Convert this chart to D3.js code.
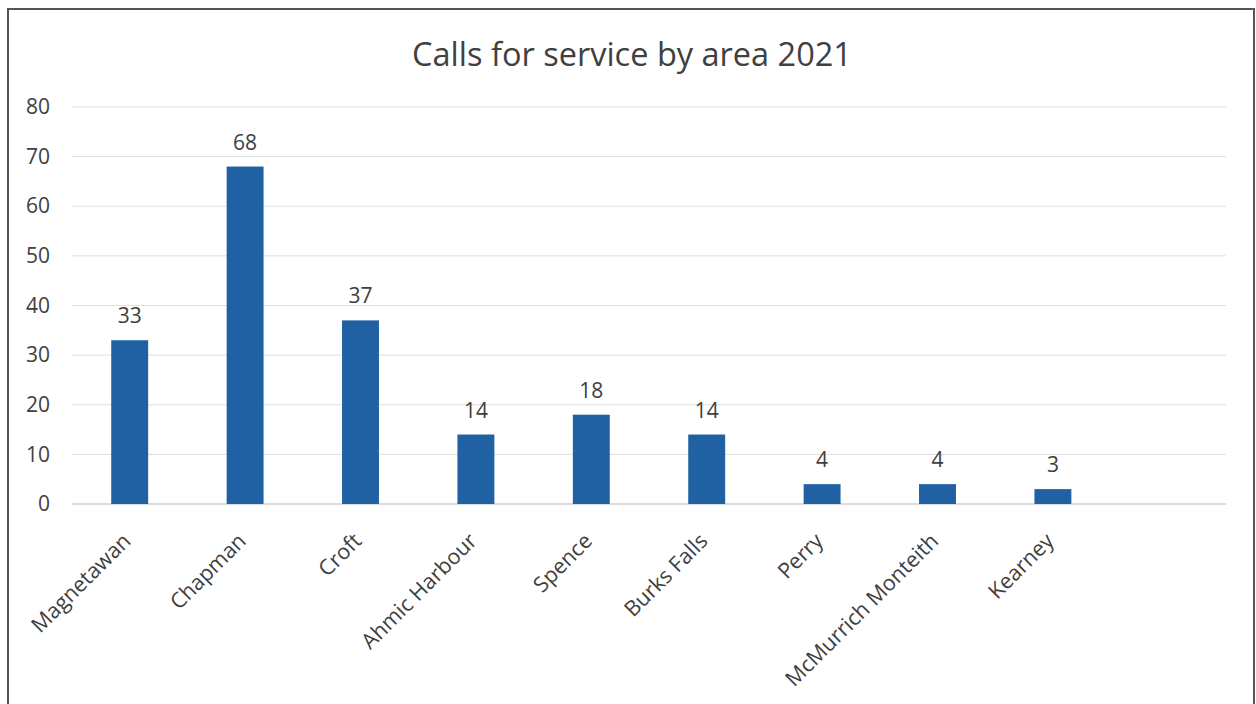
<!DOCTYPE html>
<html>
<head>
<meta charset="utf-8">
<script src="https://cdn.jsdelivr.net/npm/d3@7"></script>
<style>
  html, body { margin: 0; padding: 0; background: #fff; }
  svg { display: block; }
  text { font-family: "Open Sans", "Noto Sans", sans-serif; fill: #404040; }
</style>
</head>
<body>
<svg id="chart" width="1256" height="704"></svg>
<script>
// Calls for service per area, 2021
const areas = ["Magnetawan", "Chapman", "Croft", "Ahmic Harbour", "Spence",
               "Burks Falls", "Perry", "McMurrich Monteith", "Kearney", ""];
const calls = [33, 68, 37, 14, 18, 14, 4, 4, 3, null];
const yTicks = [0, 10, 20, 30, 40, 50, 60, 70, 80];
const title = "Calls for service by area 2021";

const svg = d3.select("#chart");
const W = 1256, H = 704;
const plot = { left: 72, right: 1226, top: 107, bottom: 504 };

// outer frame
svg.append("rect")
  .attr("x", 8).attr("y", 9)
  .attr("width", 1246).attr("height", H + 20)
  .attr("fill", "#fff")
  .attr("stroke", "#555").attr("stroke-width", 2);

const x = d3.scaleBand()
  .domain(areas.map((d, i) => i))
  .range([plot.left, plot.right])
  .paddingInner(0.68)
  .paddingOuter(0.34);

const y = d3.scaleLinear()
  .domain([0, 80])
  .range([plot.bottom, plot.top]);

// gridlines
svg.append("g")
  .selectAll("line")
  .data(yTicks)
  .join("line")
  .attr("x1", plot.left).attr("x2", plot.right)
  .attr("y1", d => y(d)).attr("y2", d => y(d))
  .attr("stroke", d => d === 0 ? "#d0d0d0" : "#dedede")
  .attr("stroke-width", d => d === 0 ? 1.5 : 1);

// y axis labels
const yAxis = d3.axisLeft(y).tickValues(yTicks).tickSize(0).tickPadding(0);
svg.append("g")
  .attr("transform", `translate(50,0)`)
  .call(yAxis)
  .call(g => g.select(".domain").remove())
  .call(g => g.selectAll("text")
    .attr("font-size", 21)
    .attr("font-family", "Open Sans")
    .attr("fill", "#404040"));

// bars
const rows = areas.map((a, i) => ({ i, a, v: calls[i] })).filter(d => d.v != null);

svg.append("g")
  .selectAll("rect")
  .data(rows)
  .join("rect")
  .attr("x", d => x(d.i))
  .attr("width", x.bandwidth())
  .attr("y", d => y(d.v))
  .attr("height", d => y(0) - y(d.v))
  .attr("fill", "#1f61a2");

// value labels
svg.append("g")
  .selectAll("text")
  .data(rows)
  .join("text")
  .attr("x", d => x(d.i) + x.bandwidth() / 2)
  .attr("y", d => y(d.v) - 17)
  .attr("text-anchor", "middle")
  .attr("font-size", 21)
  .text(d => d.v);

// rotated category labels
svg.append("g")
  .selectAll("text")
  .data(rows)
  .join("text")
  .attr("transform", d => `translate(${x(d.i) + x.bandwidth() / 2 - 3},${plot.bottom + 33}) rotate(-45)`)
  .attr("text-anchor", "end")
  .attr("dy", "0.35em")
  .attr("font-size", 21.5)
  .text(d => d.a);

// title
svg.append("text")
  .attr("x", 632).attr("y", 66)
  .attr("text-anchor", "middle")
  .attr("font-size", 32.5)
  .text(title);
</script>
</body>
</html>
